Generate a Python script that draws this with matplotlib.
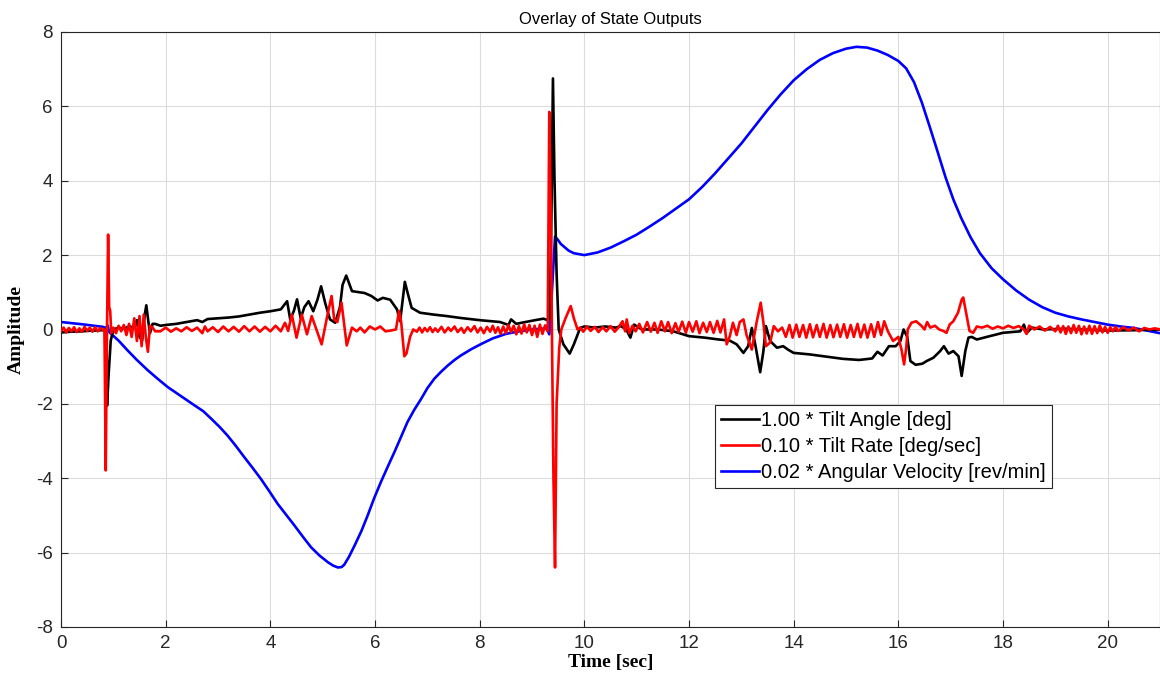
import matplotlib
matplotlib.use("Agg")
import matplotlib.pyplot as plt

# ---------------- data: (time, value) pairs ----------------
angle_pts = [
    (0.00, -0.08), (0.2, -0.06), (0.4, -0.05), (0.6, -0.03), (0.8, -0.02), (0.84, 0.0),
    (0.86, -1.2), (0.88, -2.05), (0.91, -1.2), (0.95, -0.3), (1.0, 0.0), (1.1, 0.05),
    (1.2, 0.02), (1.3, 0.08), (1.4, 0.05), (1.45, 0.25), (1.5, -0.2), (1.55, -0.3),
    (1.6, 0.4), (1.63, 0.65), (1.67, 0.2), (1.7, -0.1), (1.75, 0.15), (1.8, 0.15),
    (1.9, 0.1), (2.0, 0.12), (2.2, 0.15), (2.4, 0.2), (2.6, 0.25), (2.7, 0.2),
    (2.8, 0.28), (3.0, 0.3), (3.2, 0.32), (3.4, 0.35), (3.6, 0.4), (3.8, 0.45),
    (4.0, 0.49), (4.2, 0.54), (4.32, 0.76), (4.38, 0.27), (4.45, 0.5), (4.51, 0.81),
    (4.58, 0.3), (4.65, 0.6), (4.73, 0.76), (4.82, 0.49), (4.9, 0.8), (4.97, 1.16),
    (5.05, 0.7), (5.14, 0.27), (5.24, 0.18), (5.33, 0.6), (5.38, 1.2), (5.45, 1.45),
    (5.56, 1.03), (5.7, 1.0), (5.8, 0.98), (5.93, 0.9), (6.05, 0.78), (6.15, 0.85),
    (6.29, 0.8), (6.42, 0.54), (6.48, 0.22), (6.52, 0.7), (6.57, 1.28), (6.62, 1.0),
    (6.7, 0.58), (6.86, 0.45), (7.12, 0.4), (7.37, 0.36), (7.63, 0.31), (8.0, 0.25),
    (8.39, 0.2), (8.55, 0.12), (8.6, 0.27), (8.7, 0.15), (8.8, 0.18), (9.06, 0.25),
    (9.22, 0.29), (9.3, 0.25), (9.34, 0.3), (9.37, 3.0), (9.40, 6.75), (9.43, 4.0),
    (9.47, 1.5), (9.51, 0.0), (9.6, -0.4), (9.72, -0.65), (9.8, -0.4), (9.92, 0.04),
    (10.0, 0.08), (10.2, 0.05), (10.4, 0.08), (10.6, 0.05), (10.7, 0.09), (10.8, 0.0),
    (10.88, -0.22), (10.95, 0.13), (11.1, 0.0), (11.4, 0.0), (11.7, -0.05), (12.0, -0.18),
    (12.3, -0.22), (12.57, -0.27), (12.78, -0.3), (12.91, -0.4), (13.04, -0.63),
    (13.13, -0.45), (13.2, 0.04), (13.26, -0.36), (13.36, -1.15), (13.42, -0.6),
    (13.47, 0.09), (13.55, -0.31), (13.68, -0.49), (13.8, -0.45), (13.9, -0.55),
    (14.0, -0.63), (14.3, -0.67), (14.62, -0.73), (14.94, -0.79), (15.25, -0.82),
    (15.5, -0.78), (15.6, -0.6), (15.7, -0.7), (15.82, -0.45), (15.95, -0.45),
    (16.04, -0.31), (16.1, 0.0), (16.17, -0.2), (16.23, -0.85), (16.33, -0.95),
    (16.46, -0.92), (16.54, -0.85), (16.67, -0.76), (16.8, -0.58), (16.87, -0.45),
    (16.96, -0.65), (17.05, -0.58), (17.15, -0.72), (17.21, -1.25), (17.28, -0.58),
    (17.34, -0.22), (17.4, -0.2), (17.5, -0.27), (17.69, -0.2), (18.0, -0.09),
    (18.33, -0.05), (18.4, 0.13), (18.45, -0.1), (18.55, 0.05), (18.77, 0.0),
    (19.2, 0.02), (19.5, 0.0), (20.0, -0.03), (20.5, -0.02), (21.0, 0.0),
]

rate_pts = [
    (0.00, -0.05), (0.05, 0.05), (0.1, -0.08), (0.15, 0.04), (0.2, -0.05), (0.25, 0.06),
    (0.3, -0.07), (0.35, 0.03), (0.4, -0.06), (0.45, 0.07), (0.5, -0.04), (0.55, 0.05),
    (0.6, -0.06), (0.65, 0.06), (0.7, -0.05), (0.75, 0.04), (0.8, -0.02), (0.83, 0.0),
    (0.855, -3.79), (0.875, -0.5), (0.9, 2.55), (0.92, 0.6), (0.94, 0.5), (0.96, -0.1),
    (1.0, 0.05), (1.05, -0.1), (1.1, 0.1), (1.15, -0.05), (1.2, 0.12), (1.25, -0.15),
    (1.3, 0.15), (1.35, -0.2), (1.4, 0.3), (1.45, -0.31), (1.5, 0.36), (1.54, -0.45),
    (1.58, 0.4), (1.62, -0.2), (1.66, -0.6), (1.7, 0.1), (1.75, 0.05), (1.8, -0.05),
    (1.9, -0.05), (2.0, 0.05), (2.1, -0.06), (2.2, 0.03), (2.3, -0.05), (2.4, 0.06),
    (2.5, -0.04), (2.6, 0.05), (2.7, -0.1), (2.75, 0.08), (2.8, -0.05), (2.9, 0.06),
    (3.0, -0.07), (3.1, 0.08), (3.2, -0.05), (3.3, 0.07), (3.4, -0.06), (3.5, 0.09),
    (3.6, -0.05), (3.7, 0.08), (3.8, -0.06), (3.9, 0.07), (4.0, -0.05), (4.1, 0.1),
    (4.2, -0.05), (4.28, 0.18), (4.34, -0.04), (4.41, 0.4), (4.5, -0.22), (4.6, 0.4),
    (4.7, -0.13), (4.79, 0.36), (4.88, 0.0), (4.98, -0.4), (5.08, 0.31), (5.17, 0.9),
    (5.22, 0.27), (5.28, 0.2), (5.36, 0.72), (5.46, -0.43), (5.56, 0.05), (5.65, -0.05),
    (5.72, 0.05), (5.8, -0.08), (5.9, 0.08), (6.0, 0.0), (6.1, 0.08), (6.2, -0.05),
    (6.3, -0.03), (6.4, 0.0), (6.46, 0.5), (6.5, 0.2), (6.56, -0.72), (6.6, -0.65),
    (6.67, -0.2), (6.73, 0.0), (6.8, -0.06), (6.85, 0.05), (6.9, -0.08), (6.95, 0.04),
    (7.0, -0.05), (7.05, 0.06), (7.1, -0.07), (7.15, 0.03), (7.2, -0.06), (7.27, 0.07),
    (7.33, -0.08), (7.4, 0.05), (7.45, -0.04), (7.52, 0.08), (7.58, -0.07), (7.65, 0.04),
    (7.7, -0.09), (7.77, 0.06), (7.83, -0.05), (7.9, 0.09), (7.96, -0.08), (8.02, 0.05),
    (8.08, -0.1), (8.14, 0.07), (8.2, -0.06), (8.25, 0.1), (8.3, -0.09), (8.35, 0.06),
    (8.4, -0.12), (8.45, 0.08), (8.5, -0.1), (8.55, 0.12), (8.6, -0.07), (8.65, 0.1),
    (8.7, -0.13), (8.75, 0.09), (8.8, -0.11), (8.85, 0.14), (8.9, -0.08), (8.95, 0.12),
    (9.0, -0.15), (9.05, 0.1), (9.1, -0.2), (9.15, 0.13), (9.2, -0.12), (9.25, 0.11),
    (9.28, 0.0), (9.3, -0.05), (9.33, 5.85), (9.36, 3.0), (9.38, 0.0), (9.41, -4.0),
    (9.44, -6.4), (9.47, -2.0), (9.52, -0.5), (9.56, 0.0), (9.64, 0.3), (9.74, 0.63),
    (9.8, 0.3), (9.87, 0.0), (9.92, 0.05), (9.98, -0.06), (10.05, 0.08), (10.12, -0.04),
    (10.2, 0.07), (10.27, -0.07), (10.35, 0.06), (10.42, -0.05), (10.5, 0.09),
    (10.58, -0.06), (10.65, 0.05), (10.73, 0.22), (10.78, -0.05), (10.81, 0.27),
    (10.86, -0.1), (10.92, 0.1), (10.98, -0.05), (11.05, 0.15), (11.12, -0.08),
    (11.2, 0.2), (11.27, -0.06), (11.34, 0.18), (11.4, -0.09), (11.47, 0.22),
    (11.54, -0.05), (11.6, 0.2), (11.67, -0.1), (11.74, 0.17), (11.8, -0.07),
    (11.87, 0.21), (11.94, -0.09), (12.0, 0.2), (12.07, -0.06), (12.14, 0.22),
    (12.2, -0.1), (12.27, 0.18), (12.34, -0.07), (12.4, 0.2), (12.47, -0.09),
    (12.54, 0.23), (12.6, -0.08), (12.67, 0.27), (12.72, -0.4), (12.78, -0.18),
    (12.84, 0.18), (12.91, -0.15), (12.97, 0.2), (13.04, 0.27), (13.1, -0.15),
    (13.2, -0.54), (13.29, 0.18), (13.37, 0.72), (13.42, 0.2), (13.47, -0.45),
    (13.55, -0.35), (13.62, 0.09), (13.7, -0.05), (13.78, 0.05), (13.85, -0.2),
    (13.92, 0.12), (13.98, -0.22), (14.05, 0.13), (14.11, -0.2), (14.18, 0.12),
    (14.24, -0.22), (14.31, 0.14), (14.37, -0.21), (14.44, 0.12), (14.5, -0.2),
    (14.57, 0.15), (14.63, -0.22), (14.7, 0.12), (14.76, -0.21), (14.83, 0.13),
    (14.89, -0.2), (14.96, 0.14), (15.02, -0.22), (15.09, 0.12), (15.15, -0.2),
    (15.22, 0.15), (15.28, -0.21), (15.35, 0.13), (15.41, -0.22), (15.48, 0.14),
    (15.54, -0.2), (15.61, 0.2), (15.67, -0.15), (15.73, 0.22), (15.8, -0.05),
    (15.9, -0.31), (16.0, -0.2), (16.06, -0.54), (16.11, -0.94), (16.15, -0.5),
    (16.18, 0.0), (16.25, 0.18), (16.34, 0.22), (16.44, 0.1), (16.5, 0.0), (16.55, 0.2),
    (16.61, 0.05), (16.7, 0.1), (16.78, 0.0), (16.86, -0.04), (16.92, -0.09),
    (16.98, 0.13), (17.05, 0.22), (17.14, 0.45), (17.21, 0.8), (17.24, 0.86),
    (17.29, 0.49), (17.36, -0.04), (17.43, -0.09), (17.5, 0.08), (17.6, 0.05),
    (17.7, 0.1), (17.8, 0.02), (17.9, 0.08), (18.0, 0.03), (18.1, 0.1), (18.2, 0.04),
    (18.3, 0.09), (18.4, 0.0), (18.45, -0.12), (18.5, 0.1), (18.6, 0.0), (18.7, 0.08),
    (18.8, -0.03), (18.9, 0.07), (19.0, -0.05), (19.05, 0.1), (19.1, -0.08),
    (19.15, 0.09), (19.2, -0.12), (19.25, 0.08), (19.3, -0.1), (19.35, 0.12),
    (19.4, -0.09), (19.45, 0.1), (19.5, -0.13), (19.55, 0.08), (19.6, -0.11),
    (19.65, 0.1), (19.7, -0.12), (19.75, 0.09), (19.8, -0.1), (19.85, 0.11),
    (19.9, -0.08), (19.95, 0.07), (20.0, -0.09), (20.05, 0.06), (20.1, -0.05),
    (20.15, 0.07), (20.2, -0.04), (20.3, 0.06), (20.4, -0.03), (20.5, 0.05),
    (20.6, -0.05), (20.7, 0.04), (20.8, 0.0), (20.9, 0.03), (21.0, 0.0),
]

vel_pts = [
    (0.0, 0.2), (0.4, 0.14), (0.8, 0.07), (0.86, 0.04), (0.89, 0.11), (0.92, -0.07),
    (1.1, -0.3), (1.27, -0.56), (1.45, -0.82), (1.66, -1.1), (1.85, -1.33), (2.04, -1.55),
    (2.3, -1.8), (2.55, -2.04), (2.72, -2.2), (2.87, -2.4), (3.03, -2.62), (3.18, -2.85),
    (3.34, -3.13), (3.5, -3.43), (3.66, -3.72), (3.82, -4.02), (3.98, -4.35),
    (4.14, -4.69), (4.3, -4.98), (4.46, -5.27), (4.62, -5.57), (4.78, -5.86),
    (4.94, -6.08), (5.1, -6.26), (5.2, -6.35), (5.29, -6.4), (5.36, -6.39),
    (5.41, -6.33), (5.5, -6.12), (5.61, -5.81), (5.74, -5.42), (5.86, -5.0),
    (5.98, -4.55), (6.11, -4.11), (6.24, -3.7), (6.37, -3.3), (6.5, -2.88),
    (6.62, -2.49), (6.75, -2.16), (6.88, -1.87), (7.0, -1.58), (7.13, -1.33),
    (7.26, -1.14), (7.39, -0.97), (7.52, -0.82), (7.64, -0.7), (7.84, -0.53),
    (8.03, -0.39), (8.25, -0.24), (8.5, -0.12), (8.75, -0.05), (9.0, 0.0), (9.28, 0.03),
    (9.33, -0.13), (9.38, 1.0), (9.44, 2.5), (9.5, 2.4), (9.55, 2.3), (9.7, 2.12),
    (9.8, 2.05), (10.0, 2.0), (10.25, 2.07), (10.5, 2.2), (10.75, 2.37), (11.0, 2.55),
    (11.25, 2.77), (11.5, 3.0), (11.75, 3.25), (12.0, 3.5), (12.25, 3.83), (12.5, 4.2),
    (12.75, 4.6), (13.0, 5.0), (13.25, 5.45), (13.5, 5.9), (13.75, 6.32), (14.0, 6.7),
    (14.25, 7.0), (14.5, 7.25), (14.75, 7.43), (15.0, 7.55), (15.2, 7.6), (15.4, 7.58),
    (15.6, 7.5), (15.8, 7.38), (16.0, 7.22), (16.15, 7.02), (16.3, 6.65), (16.45, 6.1),
    (16.6, 5.45), (16.75, 4.78), (16.9, 4.1), (17.05, 3.5), (17.2, 3.0), (17.38, 2.48),
    (17.56, 2.05), (17.78, 1.65), (18.0, 1.35), (18.25, 1.05), (18.5, 0.8),
    (18.75, 0.6), (19.0, 0.45), (19.25, 0.35), (19.5, 0.27), (19.75, 0.2), (20.0, 0.13),
    (20.25, 0.08), (20.5, 0.04), (20.75, -0.03), (21.0, -0.1),
]

labels = ["1.00 * Tilt Angle [deg]",
          "0.10 * Tilt Rate [deg/sec]",
          "0.02 * Angular Velocity [rev/min]"]
x_ticks = [0, 2, 4, 6, 8, 10, 12, 14, 16, 18, 20]
y_ticks = [-8, -6, -4, -2, 0, 2, 4, 6, 8]

angle_t, angle_v = zip(*angle_pts)
rate_t, rate_v = zip(*rate_pts)
vel_t, vel_v = zip(*vel_pts)

# ---------------- plot ----------------
plt.rcParams['font.family'] = ['Liberation Sans', 'DejaVu Sans']
plt.rcParams['axes.unicode_minus'] = False
fig = plt.figure(figsize=(11.6, 6.8), dpi=100)
ax = fig.add_axes([0.0526, 0.078, 0.9474, 0.875])

ax.plot(angle_t, angle_v, color='black', lw=1.9, label=labels[0], zorder=3)
ax.plot(rate_t, rate_v, color='#ff0000', lw=1.9, label=labels[1], zorder=3)
ax.plot(vel_t, vel_v, color='#0000ff', lw=1.9, label=labels[2], zorder=2)

ax.set_xlim(0, 21)
ax.set_ylim(-8, 8)
ax.set_xticks(x_ticks)
ax.set_yticks(y_ticks)
ax.grid(True, color='#dcdcdc', lw=0.8)
ax.set_axisbelow(True)
ax.tick_params(direction='in', length=5, labelsize=13.5, colors='#262626', pad=6)
for s in ax.spines.values():
    s.set_color('#262626')
    s.set_linewidth(0.8)

ax.set_title("Overlay of State Outputs", fontsize=12, pad=6)
ax.set_xlabel("Time [sec]", family='Liberation Serif', fontweight='bold', fontsize=14,
              labelpad=1)
ax.set_ylabel("Amplitude", family='Liberation Serif', fontweight='bold', fontsize=14,
              labelpad=8)

leg = ax.legend(loc='upper left', bbox_to_anchor=(0.595, 0.373), fontsize=14.5,
                fancybox=False, framealpha=1, edgecolor='#262626', handlelength=1.9,
                handletextpad=0.1, borderpad=0.3, labelspacing=0.35, borderaxespad=0)
leg.get_frame().set_linewidth(0.8)

fig.savefig("out.png", dpi=100)
